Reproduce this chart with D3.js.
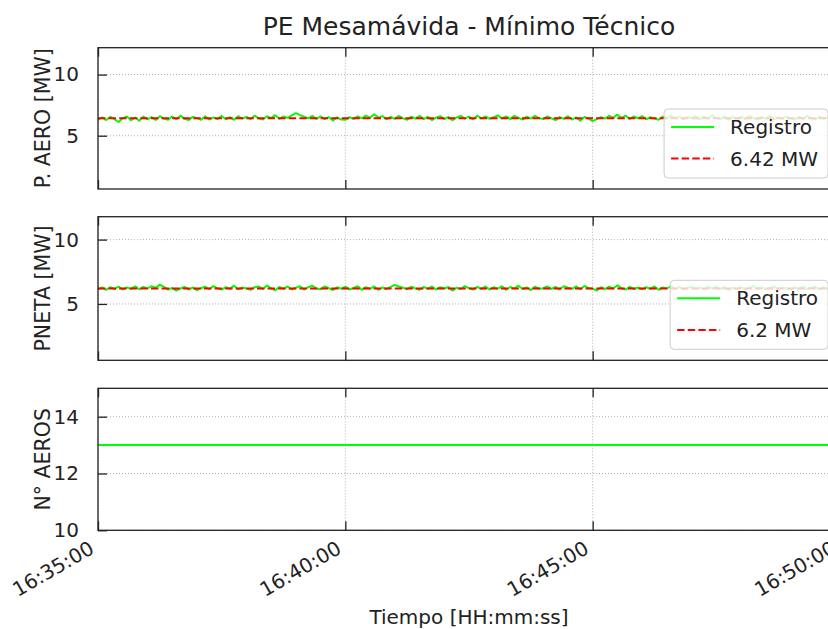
<!DOCTYPE html>
<html>
<head>
<meta charset="utf-8">
<title>PE Mesamávida - Mínimo Técnico</title>
<script src="https://cdn.jsdelivr.net/npm/d3@7"></script>
<style>
html, body { margin: 0; padding: 0; background: #fff; }
body { font-family: "DejaVu Sans", sans-serif; color: #222; }
#chart { width: 828px; height: 629px; overflow: hidden; }
</style>
</head>
<body>
<div id="chart"></div>
<script>
// Datos (una muestra cada 5 s, de 16:35:00 a 16:50:00)
const inicio = "16:35:00";
const fin = "16:50:00";
const pasoSeg = 5;

const pAero = [
  6.30, 6.50, 6.28, 6.55, 6.36, 6.12, 6.42, 6.58, 6.27, 6.48, 6.22, 6.56,
  6.34, 6.52, 6.29, 6.60, 6.40, 6.30, 6.57, 6.35, 6.64, 6.38, 6.28, 6.54,
  6.44, 6.30, 6.58, 6.32, 6.50, 6.36, 6.62, 6.34, 6.52, 6.30, 6.60, 6.40,
  6.54, 6.36, 6.64, 6.42, 6.32, 6.60, 6.44, 6.68, 6.38, 6.58, 6.46, 6.66,
  6.84, 6.68, 6.56, 6.42, 6.62, 6.38, 6.58, 6.36, 6.52, 6.24, 6.50, 6.32,
  6.30, 6.52, 6.38, 6.58, 6.42, 6.64, 6.46, 6.76, 6.48, 6.60, 6.34, 6.54,
  6.38, 6.62, 6.42, 6.30, 6.56, 6.40, 6.62, 6.36, 6.54, 6.28, 6.48, 6.60,
  6.36, 6.54, 6.26, 6.50, 6.62, 6.40, 6.56, 6.34, 6.64, 6.42, 6.58, 6.38,
  6.52, 6.66, 6.42, 6.58, 6.36, 6.62, 6.46, 6.32, 6.56, 6.40, 6.62, 6.44,
  6.36, 6.58, 6.42, 6.28, 6.52, 6.38, 6.60, 6.32, 6.50, 6.22, 6.54, 6.40,
  6.20, 6.36, 6.52, 6.40, 6.62, 6.48, 6.72, 6.46, 6.64, 6.38, 6.58, 6.42,
  6.60, 6.34, 6.52, 6.40, 6.30, 6.56, 6.42, 6.64, 6.44, 6.58, 6.36, 6.54,
  6.42, 6.62, 6.34, 6.56, 6.40, 6.68, 6.44, 6.36, 6.58, 6.30, 6.54, 6.40,
  6.56, 6.36, 6.64, 6.44, 6.32, 6.54, 6.40, 6.62, 6.34, 6.52, 6.38, 6.58,
  6.42, 6.32, 6.54, 6.38, 6.62, 6.44, 6.34, 6.56, 6.40, 6.52, 6.36, 6.50,
  6.42
];

const pNeta = [
  6.14, 6.28, 6.10, 6.30, 6.16, 6.34, 6.12, 6.28, 6.18, 6.36, 6.14, 6.32,
  6.20, 6.38, 6.26, 6.50, 6.32, 6.12, 6.24, 6.04, 6.20, 6.32, 6.12, 6.28,
  6.08, 6.22, 6.34, 6.16, 6.38, 6.22, 6.12, 6.30, 6.18, 6.42, 6.14, 6.28,
  6.20, 6.10, 6.30, 6.36, 6.16, 6.44, 6.22, 6.06, 6.32, 6.18, 6.36, 6.12,
  6.26, 6.38, 6.12, 6.30, 6.42, 6.20, 6.14, 6.36, 6.22, 6.08, 6.30, 6.18,
  6.34, 6.12, 6.24, 6.38, 6.10, 6.30, 6.18, 6.36, 6.10, 6.28, 6.16, 6.32,
  6.48, 6.36, 6.26, 6.14, 6.34, 6.20, 6.10, 6.32, 6.18, 6.36, 6.12, 6.30,
  6.20, 6.32, 6.04, 6.26, 6.16, 6.38, 6.22, 6.12, 6.32, 6.18, 6.36, 6.12,
  6.30, 6.18, 6.38, 6.10, 6.32, 6.20, 6.42, 6.16, 6.28, 6.08, 6.34, 6.18,
  6.22, 6.36, 6.16, 6.32, 6.12, 6.38, 6.26, 6.18, 6.36, 6.14, 6.40, 6.24,
  6.18, 6.04, 6.30, 6.16, 6.34, 6.20, 6.46, 6.22, 6.12, 6.32, 6.16, 6.28,
  6.14, 6.30, 6.18, 6.36, 6.10, 6.28, 6.20, 6.38, 6.16, 6.32, 6.12, 6.26,
  6.34, 6.18, 6.28, 6.12, 6.36, 6.20, 6.32, 6.16, 6.30, 6.10, 6.26, 6.18,
  6.32, 6.14, 6.28, 6.38, 6.18, 6.30, 6.12, 6.26, 6.34, 6.16, 6.28, 6.20,
  6.12, 6.30, 6.18, 6.34, 6.16, 6.26, 6.32, 6.14, 6.28, 6.18, 6.30, 6.16,
  6.21
];

const aerosTiempos = ["16:35:00", "16:50:00"];
const aeros = [13, 13];

// valores de referencia (línea roja)
const refAero = 6.42;
const refNeta = 6.2;

// etiquetas
const titulo = "PE Mesamávida - Mínimo Técnico";
const ylabels = ["P. AERO [MW]", "PNETA [MW]", "N° AEROS"];
const leyendas = [["Registro", "6.42 MW"], ["Registro", "6.2 MW"]];
const yticks = [[5, 10], [5, 10], [10, 12, 14]];
const xticks = ["16:35:00", "16:40:00", "16:45:00", "16:50:00"];

const parseT = d3.timeParse("%Y-%m-%d %H:%M:%S");
const t = s => parseT("2020-01-01 " + s);

const W = 828, H = 629;
const left = 98, right = 840;
const panels = [
  { top: 47.7, bottom: 189, domain: [refAero * 0.1, refAero * 1.9] },
  { top: 216.7, bottom: 360.3, domain: [refNeta * 0.1, refNeta * 1.9] },
  { top: 388.3, bottom: 530.3, domain: [10, 15] }
];

const svg = d3.select("#chart").append("svg").attr("width", W).attr("height", H)
  .style("font-family", "'DejaVu Sans', sans-serif");

const x = d3.scaleTime().domain([t(inicio), t(fin)]).range([left, right]);
const xTickVals = xticks.map(t);

// título
svg.append("text").attr("x", (left + right) / 2).attr("y", 35)
  .attr("text-anchor", "middle").attr("font-size", "25px").attr("fill", "#222").text(titulo);

const t0 = t(inicio).getTime();
const serie = arr => arr.map((v, i) => ({ t: new Date(t0 + i * pasoSeg * 1000), v: v }));

const datos = [
  { linea: serie(pAero), ref: refAero },
  { linea: serie(pNeta), ref: refNeta },
  { linea: aerosTiempos.map((s, i) => ({ t: t(s), v: aeros[i] })), ref: null }
];

panels.forEach((p, k) => {
  const y = d3.scaleLinear().domain(p.domain).range([p.bottom, p.top]);
  const g = svg.append("g");

  // grilla punteada
  g.selectAll(".gy").data(yticks[k]).enter().append("line")
    .attr("x1", left).attr("x2", right).attr("y1", d => y(d)).attr("y2", d => y(d))
    .attr("stroke", "#b0b0b0").attr("stroke-width", 1).attr("stroke-dasharray", "1,2");
  g.selectAll(".gx").data(xTickVals).enter().append("line")
    .attr("x1", d => x(d)).attr("x2", d => x(d)).attr("y1", p.top).attr("y2", p.bottom)
    .attr("stroke", "#b0b0b0").attr("stroke-width", 1).attr("stroke-dasharray", "1,2");

  // datos
  const line = d3.line().x(d => x(d.t)).y(d => y(d.v));
  g.append("path").datum(datos[k].linea).attr("d", line)
    .attr("fill", "none").attr("stroke", "#00ff00").attr("stroke-width", 2)
    .attr("stroke-linejoin", "round");
  if (datos[k].ref !== null) {
    const r = datos[k].ref;
    g.append("path").datum([{ t: t(inicio), v: r }, { t: t(fin), v: r }]).attr("d", line)
      .attr("fill", "none").attr("stroke", "#ff0000").attr("stroke-width", 2)
      .attr("stroke-dasharray", "7.4,3.2");
  }

  // ejes (ticks hacia adentro)
  const tickLen = 9;
  const yAx = d3.axisLeft(y).tickValues(yticks[k]).tickFormat(d3.format("d"))
    .tickSizeInner(-tickLen).tickSizeOuter(0).tickPadding(10 + tickLen);
  const ga = svg.append("g").attr("transform", `translate(${left},0)`).call(yAx);
  ga.select(".domain").remove();
  ga.selectAll("line").attr("stroke", "#222").attr("stroke-width", 1.3);
  ga.selectAll("text").attr("font-size", "20px").attr("fill", "#222")
    .attr("font-family", "'DejaVu Sans', sans-serif");

  const xTop = d3.axisTop(x).tickValues(xTickVals).tickSizeInner(-tickLen).tickSizeOuter(0).tickFormat("");
  const xBot = d3.axisBottom(x).tickValues(xTickVals).tickSizeInner(-tickLen).tickSizeOuter(0).tickFormat("");
  [svg.append("g").attr("transform", `translate(0,${p.top})`).call(xTop),
   svg.append("g").attr("transform", `translate(0,${p.bottom})`).call(xBot)].forEach(a => {
    a.select(".domain").remove();
    a.selectAll("line").attr("stroke", "#222").attr("stroke-width", 1.3);
  });

  // marco
  svg.append("rect").attr("x", left).attr("y", p.top).attr("width", right - left).attr("height", p.bottom - p.top)
    .attr("fill", "none").attr("stroke", "#222").attr("stroke-width", 1.3);

  // etiqueta eje y
  svg.append("text").attr("transform", `translate(50,${(p.top + p.bottom) / 2}) rotate(-90)`)
    .attr("text-anchor", "middle").attr("font-size", "20.5px").attr("fill", "#222").text(ylabels[k]);

  // leyenda
  if (k < 2) {
    const lg = svg.append("g");
    const box = lg.append("rect").attr("y", p.bottom - 11 - 69).attr("height", 69)
      .attr("rx", 4).attr("fill", "#fff").attr("fill-opacity", 0.8)
      .attr("stroke", "#ccc").attr("stroke-width", 1);
    const items = lg.selectAll(".it").data(leyendas[k]).enter().append("g");
    const rowY = (d, i) => p.bottom - 11 - 69 + 18 + i * 31.6;
    const txt = items.append("text").attr("y", (d, i) => rowY(d, i) + 7)
      .attr("font-size", "20px").attr("fill", "#222").text(d => d);
    let wmax = 0;
    txt.each(function () { wmax = Math.max(wmax, this.getComputedTextLength()); });
    const bx = 828 - 10 - wmax - 66;
    box.attr("x", bx).attr("width", 828 - bx);
    txt.attr("x", bx + 66);
    items.append("line").attr("x1", bx + 7).attr("x2", bx + 50)
      .attr("y1", rowY).attr("y2", rowY).attr("stroke-width", 2)
      .attr("stroke", (d, i) => i === 0 ? "#00ff00" : "#ff0000")
      .attr("stroke-dasharray", (d, i) => i === 0 ? null : "7.4,3.2");
  }

  // etiquetas del eje x solo en el último panel
  if (k === 2) {
    const fmt = d3.timeFormat("%H:%M:%S");
    svg.selectAll(".xl").data(xTickVals).enter().append("text")
      .attr("transform", d => `translate(${x(d) - 10},${p.bottom + 9}) rotate(-30)`)
      .attr("text-anchor", "end").attr("dy", "0.75em")
      .attr("font-size", "20px").attr("fill", "#222").text(fmt);
  }
});

svg.append("text").attr("x", (left + right) / 2).attr("y", 624)
  .attr("text-anchor", "middle").attr("font-size", "20px").attr("fill", "#222").text("Tiempo [HH:mm:ss]");
</script>
</body>
</html>
